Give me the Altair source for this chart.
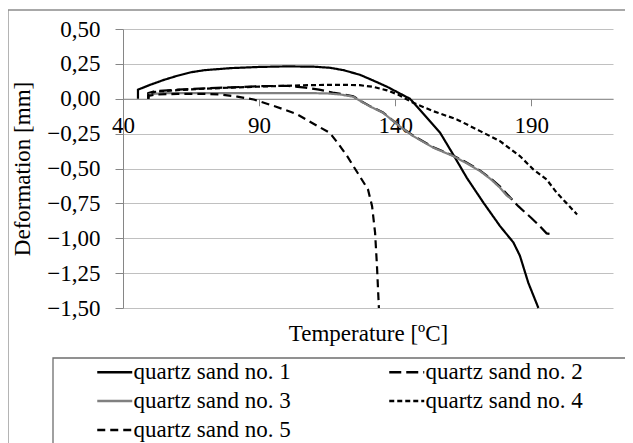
import altair as alt
import pandas as pd

# ---------------- data ----------------
names = ["quartz sand no. 1", "quartz sand no. 2", "quartz sand no. 3",
         "quartz sand no. 4", "quartz sand no. 5"]

s1_t = [45.5, 45.5, 50, 55, 60, 65, 70, 80, 90, 100, 110, 116, 121, 127, 132, 137, 141,
        145.4, 150, 156.5, 161.3, 166.3, 172.4, 178.5, 183.4, 185.8, 188.9, 192.6]
s1_d = [0.0, 0.065, 0.10, 0.135, 0.165, 0.19, 0.205, 0.22, 0.228, 0.232, 0.23, 0.222, 0.205,
        0.172, 0.13, 0.086, 0.045, 0.0, -0.10, -0.244, -0.40, -0.567, -0.745, -0.913, -1.03,
        -1.125, -1.32, -1.50]

s2_t = [49.3, 49.3, 52, 60, 70, 80, 90, 100, 107, 112, 117, 121, 124.6, 127.5, 130.7, 135.5,
        141.8, 146.6, 154, 161.3, 166, 171.2, 175, 178.5, 185.2, 190, 193.1, 195.6, 198.1]
s2_d = [0.0, 0.04, 0.055, 0.065, 0.075, 0.082, 0.09, 0.093, 0.08, 0.065, 0.045, 0.032, 0.018,
        -0.018, -0.053, -0.098, -0.198, -0.265, -0.348, -0.408, -0.455, -0.515, -0.57, -0.63,
        -0.77, -0.855, -0.913, -0.965, -0.972]

s3_t = [49.3, 49.3, 51, 55, 70, 90, 110, 115, 120, 124.6, 127.5, 130.7, 135.5, 141.8, 146.6,
        154, 161.3, 166, 171.2, 175, 178.5, 180.9, 182.8]
s3_d = [0.0, 0.03, 0.035, 0.04, 0.04, 0.04, 0.04, 0.038, 0.03, 0.014, -0.02, -0.055, -0.1,
        -0.2, -0.268, -0.351, -0.411, -0.46, -0.519, -0.575, -0.638, -0.693, -0.72]

s4_t = [49.3, 49.3, 52, 60, 70, 80, 90, 100, 110, 120, 127, 132, 137, 141, 146.6, 154, 162.6,
        171.2, 178.5, 185.8, 190.7, 195.6, 199.3, 203, 206.8]
s4_d = [0.0, 0.035, 0.05, 0.062, 0.072, 0.08, 0.087, 0.093, 0.098, 0.1, 0.097, 0.085, 0.06,
        0.03, -0.029, -0.089, -0.148, -0.232, -0.304, -0.411, -0.506, -0.578, -0.673, -0.75,
        -0.83]

s5_t = [49.3, 49.3, 52, 60, 70, 76, 82, 88, 96, 103.8, 108.7, 116, 119, 122.3, 127.1, 130,
        131.5, 132.6, 133.3, 134]
s5_d = [0.0, 0.02, 0.03, 0.035, 0.035, 0.03, 0.015, -0.005, -0.055, -0.11, -0.165, -0.245,
        -0.32, -0.41, -0.56, -0.65, -0.77, -0.96, -1.2, -1.5]

x_ticks = [40, 90, 140, 190]
y_ticks = [-1.5, -1.25, -1.0, -0.75, -0.5, -0.25, 0.0, 0.25, 0.5]
x_domain = [40, 220]
y_domain = [-1.5, 0.5]

# ---------------- styles ----------------
colors = ["#000000", "#000000", "#808080", "#000000", "#000000"]
dashes = [[1, 0], [12, 5], [1, 0], [5, 3], [8, 5]]
FONT = "Liberation Serif"

rows = []
for name, ts, ds in zip(names, [s1_t, s2_t, s3_t, s4_t, s5_t], [s1_d, s2_d, s3_d, s4_d, s5_d]):
    for i, (t, d) in enumerate(zip(ts, ds)):
        rows.append({"series": name, "T": t, "D": d, "idx": i})
df = pd.DataFrame(rows)

W, H = 490, 279
zero_px = H * (y_domain[1] - 0) / (y_domain[1] - y_domain[0])
axis_offset = -(H - zero_px)

legend = alt.Legend(
    title=None, orient="none", legendX=-19.75, legendY=331.5, columns=2,
    direction="horizontal",
    columnPadding=93, rowPadding=5, padding=0,
    symbolType="M-1.75,0H1.75", symbolSize=400, symbolStrokeWidth=2.5,
    labelFont=FONT, labelFontSize=23, labelColor="#000000", labelOffset=7.25,
    labelLimit=400,
)

lines = alt.Chart(df).mark_line(strokeWidth=2.2).encode(
    x=alt.X("T:Q", scale=alt.Scale(domain=x_domain, nice=False, zero=False),
            axis=alt.Axis(values=x_ticks, title="Temperature [ºC]", offset=axis_offset,
                          grid=False, tickSize=7, labelPadding=9, domainColor="#868686",
                          tickColor="#868686", labelFont=FONT, labelFontSize=23,
                          labelColor="#000000", titleFont=FONT, titleFontSize=23,
                          titleFontWeight="normal", titleColor="#000000",
                          titleY=(H + 25) - zero_px, titleBaseline="middle",
                          labelFlush=False)),
    y=alt.Y("D:Q", scale=alt.Scale(domain=y_domain, nice=False, zero=False),
            axis=alt.Axis(values=y_ticks, title="Deformation [mm]", grid=True,
                          gridColor="#c0c0c0", tickSize=8, labelPadding=15,
                          domainColor="#868686", tickColor="#868686",
                          labelExpr="replace(format(datum.value, '.2f'), '.', ',')",
                          labelFont=FONT, labelFontSize=23, labelColor="#000000",
                          titleFont=FONT, titleFontSize=23, titleFontWeight="normal",
                          titleColor="#000000", titleX=-101, titleY=H / 2,
                          titleAlign="center", titleBaseline="middle")),
    color=alt.Color("series:N", scale=alt.Scale(domain=names, range=colors), legend=legend),
    strokeDash=alt.StrokeDash("series:N", scale=alt.Scale(domain=names, range=dashes),
                              legend=legend),
    order=alt.Order("idx:Q"),
)

frame = alt.Chart(alt.Data(values=[{}])).mark_rect(
    fillOpacity=0, stroke="#8c8c8c", strokeWidth=1.3
).encode(x=alt.value(-115), x2=alt.value(800), y=alt.value(-19), y2=alt.value(600))

legend_box = alt.Chart(alt.Data(values=[{}])).mark_rect(
    fillOpacity=0, stroke="#6e6e6e", strokeWidth=1.3
).encode(x=alt.value(-70), x2=alt.value(800), y=alt.value(329), y2=alt.value(600))

chart = alt.layer(frame, legend_box, lines).properties(
    width=W, height=H,
    autosize=alt.AutoSizeParams(type="none"),
    padding={"left": 115, "top": 21, "right": 12, "bottom": 135},
).configure_view(stroke=None)

chart.save("out.html", embed_options={"renderer": "svg", "actions": False})
